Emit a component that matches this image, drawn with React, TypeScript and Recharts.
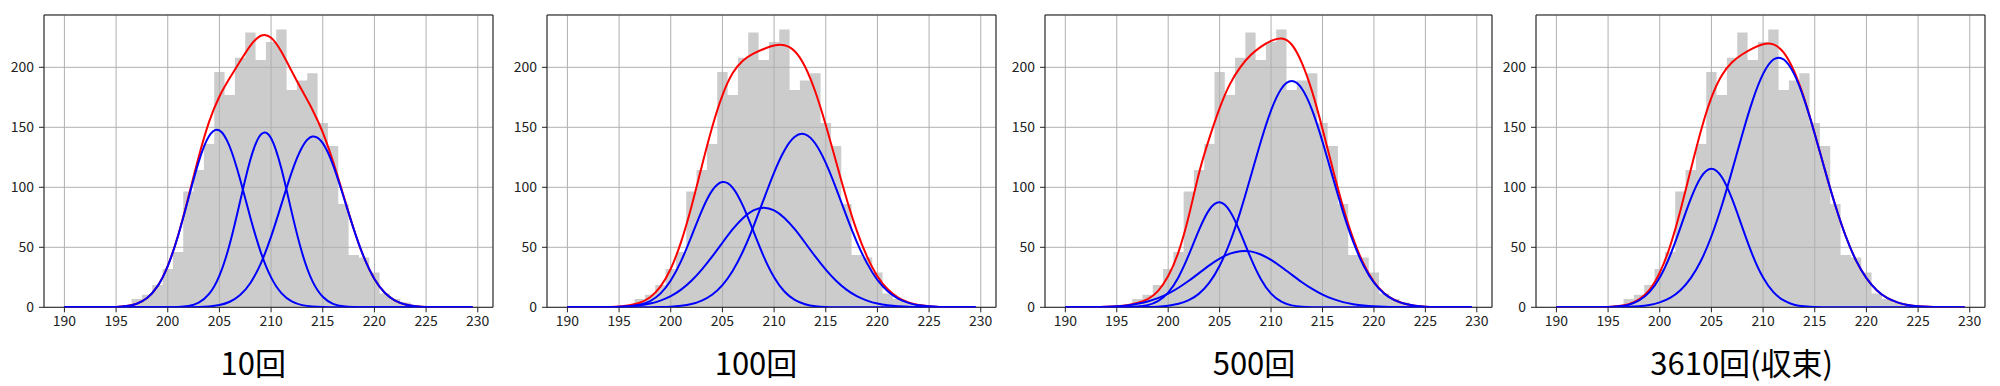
import React from 'react';
import { ComposedChart, Area, Line, XAxis, YAxis, CartesianGrid, ReferenceArea } from 'recharts';

// x positions at which the fitted curves were read (one per unit, plus the end point)
const xPoints = [190, 191, 192, 193, 194, 195, 196, 197, 198, 199, 200, 201, 202, 203, 204, 205, 206, 207, 208, 209, 210, 211, 212, 213, 214, 215, 216, 217, 218, 219, 220, 221, 222, 223, 224, 225, 226, 227, 228, 229, 229.5];

// histogram (same data in every panel)
const binEdges = [196.5, 197.5, 198.5, 199.5, 200.5, 201.5, 202.5, 203.5, 204.5, 205.5, 206.5, 207.5, 208.5, 209.5, 210.5, 211.5, 212.5, 213.5, 214.5, 215.5, 216.5, 217.5, 218.5, 219.5, 220.5, 221.5, 222.5, 223.5, 224.5];
const histCounts = [7, 10.5, 18.6, 32, 46, 96.5, 114.5, 136, 196, 177, 208, 229, 206, 221, 231.5, 181, 189, 195, 153.5, 134.5, 86, 43.5, 41.5, 29, 11.5, 7, 4, 2];

const xTicks = [190, 195, 200, 205, 210, 215, 220, 225, 230];
const yTicks = [0, 50, 100, 150, 200];
const titles = ['10回', '100回', '500回', '3610回(収束)'];

// panel 1: 10回
const p1Red = [0, 0, 0, 0, 0.1, 0.3, 1.0, 3.0, 7.8, 17.4,
  34.5, 59.9, 91.9, 125.5, 154.5, 175.7, 191.1, 205.0, 218.1, 226.3,
  224.7, 213.0, 196.7, 180.6, 164.7, 145.8, 121.4, 93.3, 65.3, 41.3,
  23.6, 12.1, 5.6, 2.4, 0.9, 0.3, 0.1, 0, 0, 0, 0];
const p1Blue1 = [0, 0, 0, 0, 0.1, 0.3, 1.0, 3.0, 7.8, 17.4,
  34.4, 59.6, 90.7, 121.4, 142.7, 147.4, 133.8, 106.7, 74.7, 46.0,
  24.9, 11.8, 4.9, 1.8, 0.6, 0.2, 0, 0, 0, 0,
  0, 0, 0, 0, 0, 0, 0, 0, 0, 0, 0];
const p1Blue2 = [0, 0, 0, 0, 0, 0, 0, 0, 0, 0,
  0.1, 0.3, 1.1, 3.9, 11.1, 26.4, 52.7, 88.1, 123.1, 143.9,
  140.9, 115.4, 79.1, 45.4, 21.8, 8.8, 2.9, 0.8, 0.2, 0,
  0, 0, 0, 0, 0, 0, 0, 0, 0, 0, 0];
const p1Blue3 = [0, 0, 0, 0, 0, 0, 0, 0, 0, 0,
  0, 0, 0.1, 0.2, 0.7, 1.9, 4.6, 10.2, 20.3, 36.4,
  58.9, 85.8, 112.7, 133.4, 142.3, 136.8, 118.5, 92.5, 65.1, 41.3,
  23.6, 12.1, 5.6, 2.4, 0.9, 0.3, 0.1, 0, 0, 0, 0];

// panel 2: 100回
const p2Red = [0, 0, 0, 0.1, 0.3, 0.6, 1.7, 3.8, 8.4, 17.2,
  32.1, 54.5, 83.8, 117.4, 149.9, 176.7, 195.2, 205.7, 211.5, 215.3,
  218.2, 218.4, 213.4, 200.5, 179.4, 152.0, 121.3, 90.9, 63.9, 42.2,
  25.9, 15.0, 8.1, 4.1, 1.9, 0.9, 0.3, 0.1, 0, 0, 0];
const p2Blue1 = [0, 0, 0, 0, 0.1, 0.2, 0.8, 2.1, 5.2, 11.4,
  22.3, 38.5, 59.0, 80.4, 97.2, 104.4, 99.6, 84.3, 63.4, 42.3,
  25.1, 13.2, 6.2, 2.6, 0.9, 0.3, 0.1, 0, 0, 0,
  0, 0, 0, 0, 0, 0, 0, 0, 0, 0, 0];
const p2Blue2 = [0, 0, 0, 0.1, 0.2, 0.4, 0.9, 1.7, 3.1, 5.6,
  9.3, 14.7, 22.1, 31.4, 42.2, 53.8, 65.1, 74.5, 80.8, 83.0,
  80.8, 74.5, 65.1, 53.8, 42.2, 31.4, 22.1, 14.7, 9.3, 5.6,
  3.1, 1.7, 0.9, 0.4, 0.2, 0.1, 0, 0, 0, 0, 0];
const p2Blue3 = [0, 0, 0, 0, 0, 0, 0, 0, 0.1, 0.2,
  0.5, 1.3, 2.7, 5.6, 10.5, 18.5, 30.5, 46.9, 67.3, 90.0,
  112.3, 130.7, 142.1, 144.1, 136.3, 120.3, 99.1, 76.2, 54.6, 36.6,
  22.8, 13.3, 7.2, 3.7, 1.7, 0.8, 0.3, 0.1, 0, 0, 0];

// panel 3: 500回
const p3Red = [0, 0, 0.1, 0.2, 0.5, 0.9, 1.7, 3.6, 6.8, 13.5,
  26.0, 46.0, 76.0, 112.0, 141.0, 166.0, 186.0, 200.0, 210.0, 217.0,
  222.0, 224.0, 219.0, 203.5, 179.5, 148.6, 115.3, 83.6, 56.8, 36.1,
  21.3, 11.8, 6.1, 3.0, 1.3, 0.5, 0.2, 0.1, 0, 0, 0];
const p3Blue1 = [0, 0, 0, 0, 0, 0, 0.1, 0.6, 1.8, 5.2,
  12.3, 25.1, 43.6, 64.5, 81.4, 87.5, 80.1, 62.5, 41.6, 23.6,
  11.4, 4.7, 1.6, 0.5, 0.1, 0, 0, 0, 0, 0,
  0, 0, 0, 0, 0, 0, 0, 0, 0, 0, 0];
const p3Blue2 = [0, 0, 0.1, 0.2, 0.5, 0.9, 1.6, 2.9, 4.8, 7.6,
  11.4, 16.3, 22.1, 28.5, 34.9, 40.5, 44.7, 46.8, 46.6, 44.0,
  39.5, 33.6, 27.2, 20.9, 15.3, 10.6, 7.0, 4.3, 2.6, 1.5,
  0.8, 0.4, 0.2, 0.1, 0, 0, 0, 0, 0, 0, 0];
const p3Blue3 = [0, 0, 0, 0, 0, 0, 0, 0.1, 0.2, 0.5,
  1.3, 2.9, 5.9, 11.4, 20.5, 34.6, 54.2, 79.3, 108.3, 138.0,
  164.1, 182.1, 188.5, 182.1, 164.1, 138.0, 108.3, 79.3, 54.2, 34.6,
  20.5, 11.4, 5.9, 2.9, 1.3, 0.5, 0.2, 0.1, 0, 0, 0];

// panel 4: 3610回 (収束)
const p4Red = [0, 0, 0, 0, 0.1, 0.3, 1.0, 2.6, 6.6, 14.6,
  28.9, 50.9, 80.6, 114.6, 147.6, 174.7, 193.2, 204.2, 210.9, 215.8,
  219.3, 219.1, 212.2, 196.7, 173.5, 144.7, 114.0, 84.6, 59.2, 39.0,
  24.3, 14.2, 7.8, 4.1, 2.0, 0.9, 0.4, 0.2, 0.1, 0, 0];
const p4Blue1 = [0, 0, 0, 0, 0.1, 0.2, 0.8, 2.2, 5.7, 12.6,
  24.8, 43.1, 66.4, 90.3, 108.6, 115.5, 108.6, 90.3, 66.4, 43.1,
  24.8, 12.6, 5.7, 2.2, 0.8, 0.2, 0.1, 0, 0, 0,
  0, 0, 0, 0, 0, 0, 0, 0, 0, 0, 0];
const p4Blue2 = [0, 0, 0, 0, 0, 0.1, 0.2, 0.4, 0.9, 2.0,
  4.1, 7.8, 14.2, 24.3, 39.0, 59.2, 84.6, 113.9, 144.5, 172.7,
  194.5, 206.5, 206.5, 194.5, 172.7, 144.5, 113.9, 84.6, 59.2, 39.0,
  24.3, 14.2, 7.8, 4.1, 2.0, 0.9, 0.4, 0.2, 0.1, 0, 0];

const X_DOMAIN: [number, number] = [188.025, 231.475];
const Y_DOMAIN: [number, number] = [0, 243.6];
const FONT = '"Noto Sans CJK JP", "Noto Sans", sans-serif';

type Row = { x: number; [k: string]: number };

function buildRows(red: number[], blues: number[][]): Row[] {
  const map = new Map<number, Row>();
  xPoints.forEach((x, i) => {
    const r: Row = map.get(x) || { x };
    r.red = red[i];
    blues.forEach((b, j) => { r['b' + j] = b[i]; });
    map.set(x, r);
  });
  binEdges.forEach((x, i) => {
    const r: Row = map.get(x) || { x };
    r.hist = histCounts[Math.min(i, histCounts.length - 1)];
    map.set(x, r);
  });
  return Array.from(map.values()).sort((a, b) => a.x - b.x);
}

const panels = [
  { title: titles[0], plotLeft: 44.3, plotWidth: 449, titleX: 253.3, red: p1Red, blues: [p1Blue1, p1Blue2, p1Blue3] },
  { title: titles[1], plotLeft: 546.7, plotWidth: 449, titleX: 756, red: p2Red, blues: [p2Blue1, p2Blue2, p2Blue3] },
  { title: titles[2], plotLeft: 1045, plotWidth: 447, titleX: 1254, red: p3Red, blues: [p3Blue1, p3Blue2, p3Blue3] },
  { title: titles[3], plotLeft: 1536, plotWidth: 449, titleX: 1741.7, red: p4Red, blues: [p4Blue1, p4Blue2] },
];

const Y_AXIS_W = 50;
const tickStyle = { fill: '#222', fontSize: 14, fontFamily: FONT };

function Panel({ plotLeft, plotWidth, red, blues }: { plotLeft: number; plotWidth: number; red: number[]; blues: number[][] }) {
  const data = buildRows(red, blues);
  return (
    <div style={{ position: 'absolute', left: plotLeft - Y_AXIS_W, top: 0 }}>
      <ComposedChart width={Y_AXIS_W + plotWidth + 2} height={337.3} data={data}
        margin={{ top: 15, right: 2, bottom: 0, left: 0 }}>
        <CartesianGrid stroke="#b0b0b0" strokeWidth={1} />
        <XAxis dataKey="x" type="number" domain={X_DOMAIN} ticks={xTicks} allowDataOverflow interval={0}
          axisLine={false} tickLine={{ stroke: '#222' }} tickSize={5} tickMargin={4} height={30} tick={tickStyle} />
        <YAxis type="number" domain={Y_DOMAIN} ticks={yTicks} allowDataOverflow interval={0} width={Y_AXIS_W}
          axisLine={false} tickLine={{ stroke: '#222' }} tickSize={5} tickMargin={5} tick={tickStyle} />
        <Area dataKey="hist" type="stepAfter" fill="#b0b0b0" fillOpacity={0.65} stroke="none"
          connectNulls isAnimationActive={false} dot={false} activeDot={false} />
        <Line dataKey="red" type="natural" stroke="#ff0000" strokeWidth={2} dot={false} activeDot={false}
          connectNulls isAnimationActive={false} />
        {blues.map((_, j) => (
          <Line key={j} dataKey={'b' + j} type="natural" stroke="#0000ff" strokeWidth={2} dot={false}
            activeDot={false} connectNulls isAnimationActive={false} />
        ))}
        <ReferenceArea x1={X_DOMAIN[0]} x2={X_DOMAIN[1]} y1={Y_DOMAIN[0]} y2={Y_DOMAIN[1]}
          fill="none" fillOpacity={0} stroke="#222" strokeWidth={1} ifOverflow="visible" />
      </ComposedChart>
    </div>
  );
}

export default function App() {
  return (
    <div style={{ position: 'absolute', left: 0, top: 0, width: 2000, height: 386, background: '#fff', overflow: 'hidden' }}>
      {panels.map((p, i) => (
        <Panel key={i} plotLeft={p.plotLeft} plotWidth={p.plotWidth} red={p.red} blues={p.blues} />
      ))}
      <svg width={2000} height={386} style={{ position: 'absolute', left: 0, top: 0, pointerEvents: 'none' }}>
        {panels.map((p, i) => (
          <text key={i} x={p.titleX} y={375} textAnchor="middle" fontSize={31} fontFamily={FONT} fill="#000">
            {p.title}
          </text>
        ))}
      </svg>
    </div>
  );
}
